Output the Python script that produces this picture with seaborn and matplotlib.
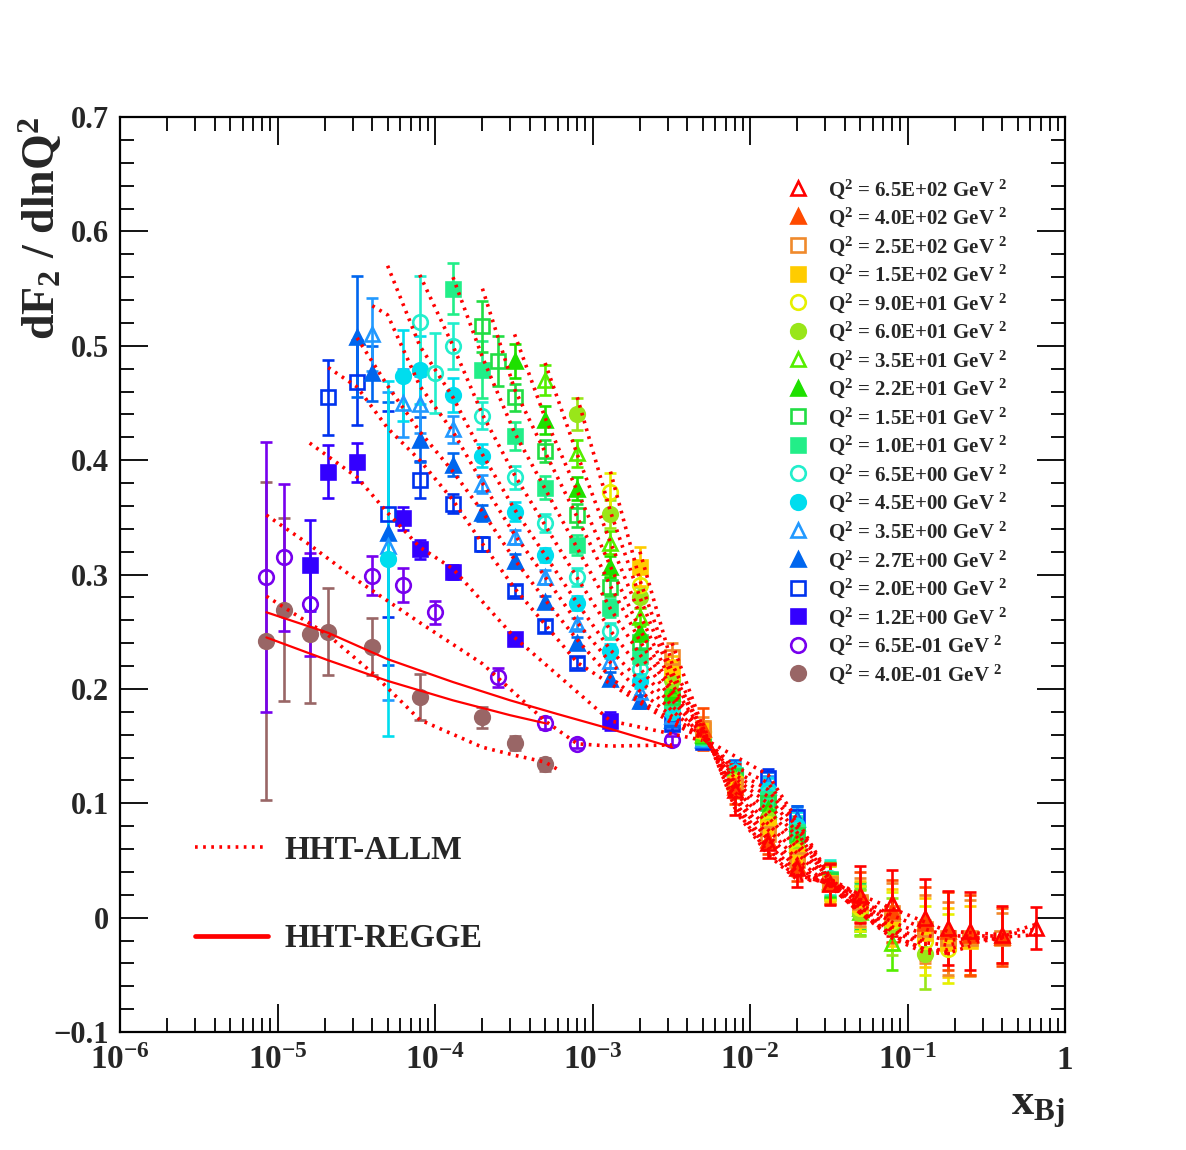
import numpy as np
import pandas as pd
import matplotlib
matplotlib.use("Agg")
import matplotlib.pyplot as plt
from matplotlib.lines import Line2D
from matplotlib.ticker import FixedLocator, FixedFormatter, LogLocator, MultipleLocator, NullFormatter
import seaborn as sns

# Q^2 bins, legend order (top to bottom)
q2_labels = ["6.5E+02", "4.0E+02", "2.5E+02", "1.5E+02", "9.0E+01", "6.0E+01",
             "3.5E+01", "2.2E+01", "1.5E+01", "1.0E+01", "6.5E+00", "4.5E+00",
             "3.5E+00", "2.7E+00", "2.0E+00", "1.2E+00", "6.5E-01", "4.0E-01"]
colors = ["#ff0000", "#ff4a00", "#f08a2c", "#ffcc00", "#e6f000", "#99e619",
          "#55ee00", "#1ee000", "#22dd44", "#22ee88", "#22eecc", "#00ddee",
          "#2299ff", "#0066ee", "#0033ee", "#3300ff", "#7700ee", "#996666"]
markers = ["^", "^", "s", "s", "o", "o", "^", "^", "s", "s", "o", "o", "^", "^", "s", "s", "o", "o"]
filled = [False, True, False, True, False, True, False, True, False, True, False, True,
          False, True, False, True, False, True]

# measured dF2/dlnQ2 points: (x, value, error)
pts_650 = [(8e-3, 0.112, 0.022), (1.3e-2, 0.065, 0.013), (2e-2, 0.043, 0.016), (3.2e-2, 0.029, 0.018),
           (5e-2, 0.020, 0.025), (8e-2, 0.013, 0.029), (0.13, 0.0, 0.034), (0.18, -0.009, 0.032),
           (0.25, -0.012, 0.034), (0.4, -0.015, 0.025), (0.65, -0.009, 0.018)]
pts_400 = [(5e-3, 0.165, 0.018), (8e-3, 0.114, 0.015), (1.3e-2, 0.068, 0.012), (2e-2, 0.046, 0.014),
           (3.2e-2, 0.030, 0.018), (5e-2, 0.018, 0.022), (8e-2, 0.006, 0.027), (0.13, -0.005, 0.032),
           (0.18, -0.012, 0.034), (0.25, -0.015, 0.035), (0.4, -0.017, 0.025)]
pts_250 = [(3.2e-3, 0.228, 0.012), (5e-3, 0.166, 0.009), (8e-3, 0.115, 0.010), (1.3e-2, 0.073, 0.012),
           (2e-2, 0.050, 0.014), (3.2e-2, 0.029, 0.017), (5e-2, 0.014, 0.021), (8e-2, 0.004, 0.026),
           (0.13, -0.010, 0.030), (0.18, -0.018, 0.032), (0.25, -0.018, 0.033), (0.4, -0.018, 0.022)]
pts_150 = [(2e-3, 0.307, 0.017), (3.2e-3, 0.219, 0.010), (5e-3, 0.164, 0.008), (8e-3, 0.117, 0.010),
           (1.3e-2, 0.078, 0.011), (2e-2, 0.053, 0.013), (3.2e-2, 0.030, 0.016), (5e-2, 0.012, 0.020),
           (8e-2, 0.0, 0.025), (0.13, -0.013, 0.030), (0.18, -0.022, 0.030), (0.25, -0.020, 0.030)]
pts_90 = [(1.3e-3, 0.372, 0.017), (2e-3, 0.291, 0.012), (3.2e-3, 0.212, 0.008), (5e-3, 0.163, 0.008),
          (8e-3, 0.119, 0.009), (1.3e-2, 0.082, 0.010), (2e-2, 0.057, 0.012), (3.2e-2, 0.030, 0.015),
          (5e-2, 0.008, 0.020), (8e-2, -0.003, 0.025), (0.13, -0.020, 0.030), (0.18, -0.027, 0.030)]
pts_60 = [(8e-4, 0.440, 0.014), (1.3e-3, 0.353, 0.012), (2e-3, 0.280, 0.009), (3.2e-3, 0.208, 0.007),
          (5e-3, 0.162, 0.007), (8e-3, 0.120, 0.009), (1.3e-2, 0.086, 0.010), (2e-2, 0.060, 0.012),
          (3.2e-2, 0.030, 0.015), (5e-2, 0.004, 0.020), (8e-2, -0.008, 0.025), (0.13, -0.032, 0.030)]
pts_35 = [(5e-4, 0.470, 0.013), (8e-4, 0.406, 0.012), (1.3e-3, 0.328, 0.010), (2e-3, 0.263, 0.008),
          (3.2e-3, 0.201, 0.007), (5e-3, 0.161, 0.007), (8e-3, 0.121, 0.009), (1.3e-2, 0.090, 0.010),
          (2e-2, 0.064, 0.012), (3.2e-2, 0.031, 0.015), (5e-2, 0.005, 0.020), (8e-2, -0.022, 0.024)]
pts_22 = [(3.2e-4, 0.487, 0.015), (5e-4, 0.435, 0.012), (8e-4, 0.375, 0.010), (1.3e-3, 0.307, 0.009),
          (2e-3, 0.250, 0.008), (3.2e-3, 0.196, 0.006), (5e-3, 0.160, 0.006), (8e-3, 0.122, 0.008),
          (1.3e-2, 0.095, 0.010), (2e-2, 0.068, 0.012), (3.2e-2, 0.032, 0.015), (5e-2, 0.008, 0.020)]
pts_15 = [(2e-4, 0.517, 0.022), (2.5e-4, 0.487, 0.022), (3.2e-4, 0.455, 0.012), (5e-4, 0.408, 0.010),
          (8e-4, 0.352, 0.010), (1.3e-3, 0.289, 0.008), (2e-3, 0.241, 0.007), (3.2e-3, 0.193, 0.006),
          (5e-3, 0.159, 0.006), (8e-3, 0.124, 0.008), (1.3e-2, 0.100, 0.010), (2e-2, 0.072, 0.012),
          (3.2e-2, 0.033, 0.015), (5e-2, 0.010, 0.020)]
pts_10 = [(1.3e-4, 0.550, 0.022), (2e-4, 0.479, 0.025), (3.2e-4, 0.421, 0.012), (5e-4, 0.376, 0.010),
          (8e-4, 0.326, 0.009), (1.3e-3, 0.271, 0.008), (2e-3, 0.229, 0.007), (3.2e-3, 0.189, 0.006),
          (5e-3, 0.158, 0.006), (8e-3, 0.125, 0.008), (1.3e-2, 0.104, 0.010), (2e-2, 0.075, 0.012),
          (3.2e-2, 0.034, 0.015)]
pts_6p5 = [(8e-5, 0.521, 0.040), (1e-4, 0.476, 0.035), (1.3e-4, 0.500, 0.020), (2e-4, 0.439, 0.012),
           (3.2e-4, 0.385, 0.010), (5e-4, 0.345, 0.008), (8e-4, 0.298, 0.008), (1.3e-3, 0.251, 0.007),
           (2e-3, 0.217, 0.006), (3.2e-3, 0.184, 0.005), (5e-3, 0.158, 0.006), (8e-3, 0.126, 0.008),
           (1.3e-2, 0.108, 0.010), (2e-2, 0.077, 0.012), (3.2e-2, 0.035, 0.015)]
pts_4p5 = [(5e-5, 0.314, 0.155), (6.3e-5, 0.474, 0.040), (8e-5, 0.479, 0.030), (1.3e-4, 0.457, 0.015),
           (2e-4, 0.404, 0.010), (3.2e-4, 0.355, 0.008), (5e-4, 0.317, 0.006), (8e-4, 0.275, 0.006),
           (1.3e-3, 0.233, 0.006), (2e-3, 0.207, 0.006), (3.2e-3, 0.180, 0.005), (5e-3, 0.157, 0.006),
           (8e-3, 0.127, 0.008), (1.3e-2, 0.112, 0.010), (2e-2, 0.080, 0.012)]
pts_3p5 = [(4e-5, 0.510, 0.032), (5e-5, 0.325, 0.135), (6.3e-5, 0.450, 0.030), (8e-5, 0.449, 0.025),
           (1.3e-4, 0.427, 0.012), (2e-4, 0.379, 0.008), (3.2e-4, 0.333, 0.006), (5e-4, 0.298, 0.006),
           (8e-4, 0.257, 0.005), (1.3e-3, 0.224, 0.006), (2e-3, 0.197, 0.006), (3.2e-3, 0.176, 0.005),
           (5e-3, 0.156, 0.006), (8e-3, 0.128, 0.008), (1.3e-2, 0.114, 0.010), (2e-2, 0.083, 0.012)]
pts_2p7 = [(3.2e-5, 0.508, 0.053), (4e-5, 0.476, 0.024), (5e-5, 0.336, 0.115), (8e-5, 0.418, 0.020),
           (1.3e-4, 0.396, 0.010), (2e-4, 0.354, 0.007), (3.2e-4, 0.312, 0.006), (5e-4, 0.276, 0.005),
           (8e-4, 0.240, 0.005), (1.3e-3, 0.209, 0.006), (2e-3, 0.189, 0.006), (3.2e-3, 0.173, 0.005),
           (5e-3, 0.155, 0.006), (8e-3, 0.130, 0.008), (1.3e-2, 0.117, 0.010), (2e-2, 0.086, 0.012)]
pts_2p0 = [(2.1e-5, 0.455, 0.033), (3.2e-5, 0.468, 0.037), (5e-5, 0.353, 0.090), (8e-5, 0.383, 0.016),
           (1.3e-4, 0.362, 0.008), (2e-4, 0.327, 0.006), (3.2e-4, 0.286, 0.005), (5e-4, 0.255, 0.005),
           (8e-4, 0.223, 0.005), (3.2e-3, 0.169, 0.005), (5e-3, 0.154, 0.006), (1.3e-2, 0.122, 0.008),
           (2e-2, 0.088, 0.010)]
pts_1p2 = [(1.6e-5, 0.308, 0.040), (2.1e-5, 0.390, 0.023), (3.2e-5, 0.398, 0.017), (6.3e-5, 0.349, 0.010),
           (8e-5, 0.322, 0.008), (1.3e-4, 0.302, 0.006), (3.2e-4, 0.244, 0.005), (1.3e-3, 0.172, 0.008)]
pts_0p65 = [(8.5e-6, 0.298, 0.118), (1.1e-5, 0.315, 0.064), (1.6e-5, 0.274, 0.045), (4e-5, 0.299, 0.017),
            (6.3e-5, 0.291, 0.015), (1e-4, 0.267, 0.010), (2.5e-4, 0.210, 0.008), (5e-4, 0.170, 0.005),
            (8e-4, 0.152, 0.004), (3.2e-3, 0.155, 0.004)]
pts_0p4 = [(8.5e-6, 0.242, 0.139), (1.1e-5, 0.269, 0.080), (1.6e-5, 0.248, 0.060), (2.1e-5, 0.250, 0.038),
           (4e-5, 0.237, 0.025), (8e-5, 0.193, 0.020), (2e-4, 0.175, 0.009), (3.2e-4, 0.153, 0.006),
           (5e-4, 0.134, 0.006)]

# HHT-ALLM curves (x, value)
allm_650 = [(8e-3, 0.094), (1.3e-2, 0.055), (2e-2, 0.033), (3.2e-2, 0.032), (5e-2, 0.020), (8e-2, 0.008),
            (0.13, -0.004), (0.18, -0.012), (0.25, -0.013), (0.4, -0.015), (0.65, -0.006)]
allm_400 = [(5e-3, 0.170), (8e-3, 0.096), (1.3e-2, 0.057), (2e-2, 0.035), (3.2e-2, 0.031), (5e-2, 0.016),
            (8e-2, 0.002), (0.13, -0.010), (0.18, -0.016), (0.25, -0.016), (0.4, -0.016), (0.65, -0.010)]
allm_250 = [(3.2e-3, 0.240), (5e-3, 0.167), (8e-3, 0.098), (1.3e-2, 0.060), (2e-2, 0.037), (3.2e-2, 0.030),
            (5e-2, 0.012), (8e-2, -0.004), (0.13, -0.015), (0.18, -0.020), (0.25, -0.018), (0.4, -0.017),
            (0.65, -0.015)]
allm_150 = [(2e-3, 0.320), (3.2e-3, 0.222), (5e-3, 0.166), (8e-3, 0.101), (1.3e-2, 0.064), (2e-2, 0.040),
            (3.2e-2, 0.029), (5e-2, 0.009), (8e-2, -0.010), (0.13, -0.022), (0.18, -0.024), (0.25, -0.020),
            (0.4, -0.018)]
allm_90 = [(1.3e-3, 0.390), (2e-3, 0.295), (3.2e-3, 0.215), (5e-3, 0.165), (8e-3, 0.104), (1.3e-2, 0.068),
           (2e-2, 0.043), (3.2e-2, 0.028), (5e-2, 0.006), (8e-2, -0.015), (0.13, -0.028), (0.18, -0.028),
           (0.25, -0.022), (0.4, -0.018)]
allm_60 = [(8e-4, 0.455), (1.3e-3, 0.355), (2e-3, 0.280), (3.2e-3, 0.210), (5e-3, 0.164), (8e-3, 0.107),
           (1.3e-2, 0.072), (2e-2, 0.047), (3.2e-2, 0.028), (5e-2, 0.004), (8e-2, -0.018), (0.13, -0.031),
           (0.18, -0.031), (0.25, -0.025)]
allm_35 = [(5e-4, 0.485), (8e-4, 0.405), (1.3e-3, 0.328), (2e-3, 0.265), (3.2e-3, 0.204), (5e-3, 0.163),
           (8e-3, 0.110), (1.3e-2, 0.077), (2e-2, 0.051), (3.2e-2, 0.028), (5e-2, 0.004), (8e-2, -0.016),
           (0.13, -0.028), (0.18, -0.030)]
allm_22 = [(3.2e-4, 0.510), (5e-4, 0.437), (8e-4, 0.373), (1.3e-3, 0.307), (2e-3, 0.252), (3.2e-3, 0.199),
           (5e-3, 0.162), (8e-3, 0.113), (1.3e-2, 0.082), (2e-2, 0.056), (3.2e-2, 0.029), (5e-2, 0.006),
           (8e-2, -0.012), (0.13, -0.024)]
allm_15 = [(2e-4, 0.550), (3.2e-4, 0.462), (5e-4, 0.407), (8e-4, 0.350), (1.3e-3, 0.290), (2e-3, 0.242),
           (3.2e-3, 0.195), (5e-3, 0.161), (8e-3, 0.116), (1.3e-2, 0.088), (2e-2, 0.061), (3.2e-2, 0.030),
           (5e-2, 0.009), (8e-2, -0.008), (0.13, -0.020)]
allm_10 = [(1.3e-4, 0.560), (2e-4, 0.490), (3.2e-4, 0.424), (5e-4, 0.375), (8e-4, 0.323), (1.3e-3, 0.270),
           (2e-3, 0.230), (3.2e-3, 0.190), (5e-3, 0.160), (8e-3, 0.119), (1.3e-2, 0.094), (2e-2, 0.066),
           (3.2e-2, 0.031), (5e-2, 0.012), (8e-2, -0.004)]
allm_6p5 = [(8e-5, 0.562), (1.3e-4, 0.500), (2e-4, 0.440), (3.2e-4, 0.387), (5e-4, 0.343), (8e-4, 0.297),
            (1.3e-3, 0.251), (2e-3, 0.218), (3.2e-3, 0.185), (5e-3, 0.159), (8e-3, 0.122), (1.3e-2, 0.100),
            (2e-2, 0.070), (3.2e-2, 0.032), (5e-2, 0.015), (8e-2, 0.0)]
allm_4p5 = [(5e-5, 0.570), (8e-5, 0.500), (1.3e-4, 0.455), (2e-4, 0.405), (3.2e-4, 0.357), (5e-4, 0.317),
            (8e-4, 0.275), (1.3e-3, 0.234), (2e-3, 0.207), (3.2e-3, 0.181), (5e-3, 0.158), (8e-3, 0.125),
            (1.3e-2, 0.106), (2e-2, 0.074), (3.2e-2, 0.033), (5e-2, 0.018)]
allm_3p5 = [(4e-5, 0.535), (5e-5, 0.527), (8e-5, 0.465), (1.3e-4, 0.425), (2e-4, 0.380), (3.2e-4, 0.335),
            (5e-4, 0.298), (8e-4, 0.258), (1.3e-3, 0.223), (2e-3, 0.198), (3.2e-3, 0.176), (5e-3, 0.158),
            (8e-3, 0.128), (1.3e-2, 0.112), (2e-2, 0.078), (3.2e-2, 0.034), (5e-2, 0.020)]
allm_2p7 = [(3.2e-5, 0.507), (5e-5, 0.465), (8e-5, 0.425), (1.3e-4, 0.390), (2e-4, 0.355), (3.2e-4, 0.313),
            (5e-4, 0.278), (8e-4, 0.243), (1.3e-3, 0.210), (2e-3, 0.190), (3.2e-3, 0.173), (5e-3, 0.157),
            (8e-3, 0.132), (1.3e-2, 0.118), (2e-2, 0.082), (3.2e-2, 0.035)]
allm_2p0 = [(2.1e-5, 0.481), (3.2e-5, 0.464), (5e-5, 0.428), (8e-5, 0.400), (1.3e-4, 0.365), (2e-4, 0.327),
            (3.2e-4, 0.288), (8e-4, 0.223), (3.2e-3, 0.170), (5e-3, 0.157), (1.3e-2, 0.125), (2e-2, 0.085),
            (3.2e-2, 0.036)]
allm_1p2 = [(1.6e-5, 0.415), (3.2e-5, 0.385), (5e-5, 0.354), (8e-5, 0.324), (1.3e-4, 0.305), (3.2e-4, 0.245),
            (1.3e-3, 0.172), (5e-3, 0.155)]
allm_0p65 = [(8.5e-6, 0.352), (1.6e-5, 0.326), (3.2e-5, 0.295), (8e-5, 0.258), (2e-4, 0.222), (5e-4, 0.172),
             (8e-4, 0.152), (1.3e-3, 0.150), (3.2e-3, 0.151)]
allm_0p4 = [(8.5e-6, 0.281), (2.1e-5, 0.247), (4e-5, 0.214), (8e-5, 0.173), (2e-4, 0.149), (3.2e-4, 0.142),
            (5e-4, 0.136), (6.3e-4, 0.128)]

# HHT-REGGE curves for the two lowest Q^2 bins
regge_0p65 = [(8.5e-6, 0.267), (2.1e-5, 0.249), (5e-5, 0.226), (1.3e-4, 0.206), (3e-4, 0.190), (6e-4, 0.178),
              (1.3e-3, 0.165), (3.2e-3, 0.149)]
regge_0p4 = [(8.5e-6, 0.245), (2.1e-5, 0.225), (5e-5, 0.207), (1.3e-4, 0.190), (3e-4, 0.177), (5e-4, 0.170)]

points = [pts_650, pts_400, pts_250, pts_150, pts_90, pts_60, pts_35, pts_22, pts_15, pts_10,
          pts_6p5, pts_4p5, pts_3p5, pts_2p7, pts_2p0, pts_1p2, pts_0p65, pts_0p4]
allm = [allm_650, allm_400, allm_250, allm_150, allm_90, allm_60, allm_35, allm_22, allm_15, allm_10,
        allm_6p5, allm_4p5, allm_3p5, allm_2p7, allm_2p0, allm_1p2, allm_0p65, allm_0p4]

x_ticks = [1e-6, 1e-5, 1e-4, 1e-3, 1e-2, 1e-1, 1]
x_tick_labels = ["$10^{-6}$", "$10^{-5}$", "$10^{-4}$", "$10^{-3}$", "$10^{-2}$", "$10^{-1}$", "1"]
y_ticks = [-0.1, 0, 0.1, 0.2, 0.3, 0.4, 0.5, 0.6, 0.7]
y_tick_labels = ["\u22120.1", "0", "0.1", "0.2", "0.3", "0.4", "0.5", "0.6", "0.7"]

sns.set_theme(style="ticks")
plt.rcParams.update({
    "font.family": ["Liberation Serif", "DejaVu Serif"],
    "font.weight": "bold",
    "mathtext.default": "regular",
    "axes.linewidth": 1.6,
})

fig = plt.figure(figsize=(11.86, 11.5), dpi=100)
ax = fig.add_axes([0.1012, 0.1026, 0.7968, 0.7956])
ax.set_xscale("log")

# data points, lowest Q^2 first so the high Q^2 bins sit on top
for pts, col, mk, fill in reversed(list(zip(points, colors, markers, filled))):
    x, y, e = np.array(pts).T
    ax.errorbar(x, y, yerr=e, fmt=mk, color=col, mfc=col if fill else "none", mec=col,
                ms=10.5, mew=1.9, elinewidth=1.9, capsize=4, capthick=1.9, zorder=3)

# model curves
dotted = (0, (0.75, 1.5))
allm_df = pd.concat([pd.DataFrame(c, columns=["x", "y"]).assign(curve=i) for i, c in enumerate(allm)])
sns.lineplot(data=allm_df, x="x", y="y", units="curve", estimator=None, sort=False, ax=ax,
             color="red", linewidth=2.6, linestyle=dotted, zorder=4)
regge_df = pd.concat([pd.DataFrame(c, columns=["x", "y"]).assign(curve=i)
                      for i, c in enumerate([regge_0p65, regge_0p4])])
sns.lineplot(data=regge_df, x="x", y="y", units="curve", estimator=None, sort=False, ax=ax,
             color="red", linewidth=1.6, zorder=4)

ax.set_xlim(1e-6, 1)
ax.set_ylim(-0.1, 0.7)
ax.xaxis.set_major_locator(FixedLocator(x_ticks))
ax.xaxis.set_major_formatter(FixedFormatter(x_tick_labels))
ax.xaxis.set_minor_locator(LogLocator(base=10, subs=np.arange(2, 10), numticks=20))
ax.xaxis.set_minor_formatter(NullFormatter())
ax.yaxis.set_major_locator(FixedLocator(y_ticks))
ax.yaxis.set_major_formatter(FixedFormatter(y_tick_labels))
ax.yaxis.set_minor_locator(MultipleLocator(0.02))
ax.tick_params(which="both", direction="in", top=True, right=True, width=1.3, color="black")
ax.tick_params(which="major", length=20)
ax.tick_params(which="minor", length=10)
ax.tick_params(axis="y", labelsize=22, pad=8)
ax.tick_params(axis="x", labelsize=24, pad=9)
for lab in ax.get_xticklabels() + ax.get_yticklabels():
    lab.set_fontweight("bold")
for sp in ax.spines.values():
    sp.set_color("black")

ax.set_ylabel("dF$_{2}$ / dlnQ$^{2}$", fontsize=33, fontweight="bold", loc="top")
ax.yaxis.set_label_coords(-0.058, 1.0)
ax.set_xlabel("x$_{Bj}$", fontsize=32, fontweight="bold", loc="right")
ax.xaxis.set_label_coords(1.0, -0.063)

# Q^2 legend
q2_handles = [Line2D([], [], ls="none", marker=mk, color=col, mfc=col if fill else "none", mec=col,
                     ms=10.5, mew=1.9) for col, mk, fill in zip(colors, markers, filled)]
q2_text = ["Q$^{2}$ = " + q + " GeV $^{2}$" for q in q2_labels]
leg1 = ax.legend(q2_handles, q2_text, loc="upper left", bbox_to_anchor=(0.7065, 0.9344),
                 frameon=False, fontsize=15, handlelength=1.0, handletextpad=0.94,
                 labelspacing=0.246, borderpad=0, borderaxespad=0)
ax.add_artist(leg1)

# model legend
model_handles = [Line2D([], [], color="red", lw=2.6, ls=dotted),
                 Line2D([], [], color="red", lw=3.4)]
ax.legend(model_handles, ["HHT-ALLM", "HHT-REGGE"], loc="upper left", bbox_to_anchor=(0.0794, 0.2155),
          frameon=False, fontsize=23.5, handlelength=2.25, handletextpad=0.48, labelspacing=1.75,
          borderpad=0, borderaxespad=0)

fig.savefig("out.png", dpi=100, facecolor="white")
